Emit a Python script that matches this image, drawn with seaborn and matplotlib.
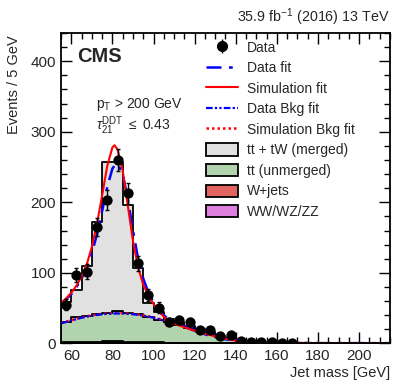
import numpy as np
import pandas as pd
import matplotlib
matplotlib.use("Agg")
import matplotlib.pyplot as plt
from matplotlib.ticker import MultipleLocator
from matplotlib.lines import Line2D
from matplotlib.patches import Patch
import seaborn as sns

# ---------------- data ----------------
bin_edges = list(range(55, 220, 5))           # 55 ... 215
bin_centers = [e + 2.5 for e in bin_edges[:-1]]

data_counts = [55, 97, 102, 165, 203, 260, 213, 114, 69, 51, 30, 33, 31, 19, 19, 11,
               12, 3, 2, 2, 2, 1, 1, 0, 0, 0, 0, 0, 0, 0, 0, 0]

tt_merged = [29, 39, 71, 130, 213, 212, 152, 66, 20, 11, 5, 4, 3, 2, 2, 1,
             0.5, 0.3, 0.2, 0.1, 0.1, 0, 0, 0, 0, 0, 0, 0, 0, 0, 0, 0]
tt_unmerged = [28, 35, 37, 39, 41, 43, 41, 39, 36, 32, 29, 25, 21, 17, 13, 9,
               5.5, 3.5, 1.8, 1.3, 0.9, 0.7, 0.5, 0.3, 0.2, 0.1, 0.1, 0.05, 0.05, 0.05, 0.05, 0.05]
wjets = [1.5, 1.5, 1.8, 2, 2, 2, 2, 1.8, 1.5, 1.3, 1.1, 1, 0.8, 0.7, 0.6, 0.5,
         0.4, 0.3, 0.2, 0.2, 0.1, 0.1, 0.1, 0.1, 0.1, 0.1, 0.1, 0.1, 0.1, 0.1, 0.1, 0.1]
diboson = [0.4, 0.5, 0.6, 0.8, 0.9, 0.9, 0.8, 0.6, 0.5, 0.4, 0.3, 0.3, 0.2, 0.2, 0.1, 0.1,
           0.1, 0.1, 0, 0, 0, 0, 0, 0, 0, 0, 0, 0, 0, 0, 0, 0]

# fit curves
fit_x = [55, 57.5, 60, 62.5, 65, 67.5, 70, 72.5, 75, 77.5, 80, 81, 82.5, 85, 87.5, 90,
         92.5, 95, 97.5, 100, 102.5, 105, 107.5, 110, 115, 120, 125, 130, 135, 140,
         145, 150, 160, 180, 215]
sim_fit = [57, 64, 72, 82, 95, 112, 137, 170, 210, 252, 278, 281, 275, 245, 195, 145,
           108, 83, 68, 56, 46, 38, 32, 28, 23, 18, 14, 10, 7, 4,
           2.5, 1.5, 1, 0.5, 0.3]
data_fit = [57, 63, 70, 80, 92, 108, 128, 155, 188, 222, 248, 252, 255, 240, 205, 160,
            120, 92, 72, 58, 48, 40, 34, 30, 24, 18, 13, 9, 6, 4,
            3, 2, 1, 0.5, 0.5]
bkg_x = [55, 60, 65, 70, 75, 80, 85, 90, 95, 100, 105, 110, 115, 120, 125, 130,
         135, 140, 145, 150, 160, 180, 215]
sim_bkg_fit = [29, 33, 37, 40, 42, 43, 43, 42, 40, 37, 33, 29, 25, 21, 17, 13,
               9, 6, 3.5, 2, 1, 0.5, 0.3]
data_bkg_fit = [28.5, 32.5, 36.5, 39.5, 41.5, 42.5, 42.5, 41.5, 39.5, 36.5, 32.5, 28.5, 24.5, 20.5, 16.5, 12.5,
                8.5, 5.5, 3.2, 1.8, 0.9, 0.5, 0.3]

proc_labels = ["tt + tW (merged)", "tt (unmerged)", "W+jets", "WW/WZ/ZZ"]
proc_colors = ["#e1e1e1", "#b1d3ad", "#e26461", "#de80de"]

# ---------------- style ----------------
sns.set_style("ticks")
plt.rcParams["font.family"] = ["Liberation Sans", "DejaVu Sans"]
plt.rcParams["mathtext.fontset"] = "custom"
plt.rcParams["mathtext.rm"] = "Liberation Sans"
plt.rcParams["mathtext.it"] = "Liberation Sans:italic"
plt.rcParams["mathtext.bf"] = "Liberation Sans:bold"

fig = plt.figure(figsize=(4.07, 3.91), dpi=100)
ax = fig.add_axes([0.150, 0.1215, 0.808, 0.794])

# stacked simulation histograms
rows = []
for lab, vals in zip(proc_labels, [tt_merged, tt_unmerged, wjets, diboson]):
    for c, v in zip(bin_centers, vals):
        rows.append({"mass": c, "n": v, "proc": lab})
df = pd.DataFrame(rows)
sns.histplot(data=df, x="mass", weights="n", hue="proc", hue_order=proc_labels,
             multiple="stack", bins=bin_edges, element="step",
             palette=dict(zip(proc_labels, proc_colors)), alpha=1,
             edgecolor="black", linewidth=1.3, legend=False, ax=ax)

# fits
sns.lineplot(x=bkg_x, y=sim_bkg_fit, ax=ax, color="#ff0000", lw=1.8,
             linestyle=(0, (1, 1.2)))
sns.lineplot(x=bkg_x, y=data_bkg_fit, ax=ax, color="#0000ff", lw=1.6,
             linestyle=(0, (3, 1, 1, 1, 1, 1)))
sns.lineplot(x=fit_x, y=data_fit, ax=ax, color="#0000ff", lw=1.8,
             linestyle=(0, (6, 3, 1.5, 3)))
sns.lineplot(x=fit_x, y=sim_fit, ax=ax, color="#ff0000", lw=1.5)

# data
dx = [c for c, n in zip(bin_centers, data_counts) if n > 0]
dy = [n for n in data_counts if n > 0]
ax.errorbar(dx, dy, yerr=np.sqrt(dy), fmt="none", ecolor="black",
            elinewidth=1.0, capsize=1.5, zorder=5)
sns.scatterplot(x=dx, y=dy, ax=ax, color="black", s=55, edgecolor="black",
                linewidth=0, zorder=6)

# axes
ax.set_xlim(55, 215)
ax.set_ylim(0, 440)
ax.xaxis.set_major_locator(MultipleLocator(20))
ax.xaxis.set_minor_locator(MultipleLocator(5))
ax.yaxis.set_major_locator(MultipleLocator(100))
ax.yaxis.set_minor_locator(MultipleLocator(20))
ax.tick_params(which="both", direction="in", top=True, right=True, labelsize=11,
               width=1.0, color="black")
ax.tick_params(which="major", length=8)
ax.tick_params(which="minor", length=4)
ax.tick_params(axis="x", pad=4)
for s in ax.spines.values():
    s.set_linewidth(1.3)
    s.set_color("black")

ax.set_xlabel("Jet mass [GeV]", fontsize=10.5, loc="right", labelpad=2)
ax.set_ylabel("")
fig.text(0.034, 0.910, "Events / 5 GeV", fontsize=10.5, rotation=90,
         ha="center", va="top")

# text
ax.text(0.05, 0.955, "CMS", transform=ax.transAxes, fontsize=14.5,
        fontweight="bold", va="top", ha="left")
fig.text(0.958, 0.928, r"35.9 fb$^{\mathrm{-1}}$ (2016) 13 TeV", fontsize=10.3,
         ha="right", va="bottom")
ax.text(0.105, 0.77, r"$\mathrm{p_{T}}$ > 200 GeV", transform=ax.transAxes,
        fontsize=10, va="center", ha="left")
ax.text(0.105, 0.70, r"$\tau_{21}^{\mathrm{DDT}}$ $\leq$ 0.43", transform=ax.transAxes,
        fontsize=10, va="center", ha="left")

# legend
handles = [
    ax.errorbar([], [], yerr=[], fmt="o", color="black", ms=7, elinewidth=1.0),
    Line2D([], [], color="#0000ff", lw=1.8, linestyle=(0, (6, 3, 1.5, 3))),
    Line2D([], [], color="#ff0000", lw=1.5),
    Line2D([], [], color="#0000ff", lw=1.6, linestyle=(0, (3, 1, 1, 1, 1, 1))),
    Line2D([], [], color="#ff0000", lw=1.8, linestyle=(0, (1, 1.2))),
]
handles += [Patch(facecolor=c, edgecolor="black", linewidth=1.3) for c in proc_colors]
labels = ["Data", "Data fit", "Simulation fit", "Data Bkg fit", "Simulation Bkg fit"] + proc_labels
ax.legend(handles, labels, loc="upper left", bbox_to_anchor=(0.441, 0.975),
          frameon=False, fontsize=10, borderpad=0, borderaxespad=0,
          handlelength=2.3, handleheight=1.0, handletextpad=0.65, labelspacing=0.47)

fig.savefig("out.png", dpi=100)
